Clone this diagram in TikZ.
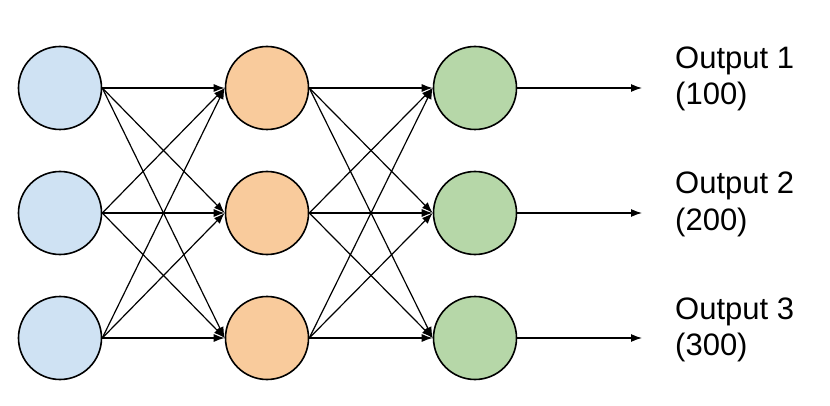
\documentclass[tikz,border=0pt]{standalone}
\usepackage{fontspec}
\setmainfont{Liberation Sans}
\usetikzlibrary{arrows.meta}
\definecolor{inblue}{HTML}{CFE2F3}
\definecolor{hidorange}{HTML}{F9CB9C}
\definecolor{outgreen}{HTML}{B6D7A8}
\tikzset{
  neuron/.style={circle,draw=black,line width=1.6pt,minimum size=83pt,inner sep=0pt},
  link/.style={-{Latex[length=11pt,width=8pt]},line width=1.2pt},
  outlabel/.style={anchor=base west,align=left,inner sep=0pt,font=\fontsize{31}{36}\selectfont}
}
\begin{document}
\begin{tikzpicture}[x=1pt,y=-1pt]
   \useasboundingbox (0,0) rectangle (830,406);
   % input layer
   \node[neuron,fill=inblue]    (i1) at ( 60, 88) {};
   \node[neuron,fill=inblue]    (i2) at ( 60,213) {};
   \node[neuron,fill=inblue]    (i3) at ( 60,338) {};
   % hidden layer
   \node[neuron,fill=hidorange] (h1) at (267, 88) {};
   \node[neuron,fill=hidorange] (h2) at (267,213) {};
   \node[neuron,fill=hidorange] (h3) at (267,338) {};
   % output layer
   \node[neuron,fill=outgreen]  (o1) at (475, 88) {};
   \node[neuron,fill=outgreen]  (o2) at (475,213) {};
   \node[neuron,fill=outgreen]  (o3) at (475,338) {};
   \coordinate (e1) at (642, 88);
   \coordinate (e2) at (642,213);
   \coordinate (e3) at (642,338);
   % input -> hidden
   \draw[link] (i1.east) -- (h1.west);
   \draw[link] (i1.east) -- (h2.west);
   \draw[link] (i1.east) -- (h3.west);
   \draw[link] (i2.east) -- (h1.west);
   \draw[link] (i2.east) -- (h2.west);
   \draw[link] (i2.east) -- (h3.west);
   \draw[link] (i3.east) -- (h1.west);
   \draw[link] (i3.east) -- (h2.west);
   \draw[link] (i3.east) -- (h3.west);
   % hidden -> output
   \draw[link] (h1.east) -- (o1.west);
   \draw[link] (h1.east) -- (o2.west);
   \draw[link] (h1.east) -- (o3.west);
   \draw[link] (h2.east) -- (o1.west);
   \draw[link] (h2.east) -- (o2.west);
   \draw[link] (h2.east) -- (o3.west);
   \draw[link] (h3.east) -- (o1.west);
   \draw[link] (h3.east) -- (o2.west);
   \draw[link] (h3.east) -- (o3.west);
   % outputs
   \draw[link] (o1.east) -- (e1);
   \draw[link] (o2.east) -- (e2);
   \draw[link] (o3.east) -- (e3);
   \node[outlabel] (t1) at (675,105) {Output 1\\(100)};
   \node[outlabel] (t2) at (675,230) {Output 2\\(200)};
   \node[outlabel] (t3) at (675,355) {Output 3\\(300)};
  \end{tikzpicture}
\end{document}
